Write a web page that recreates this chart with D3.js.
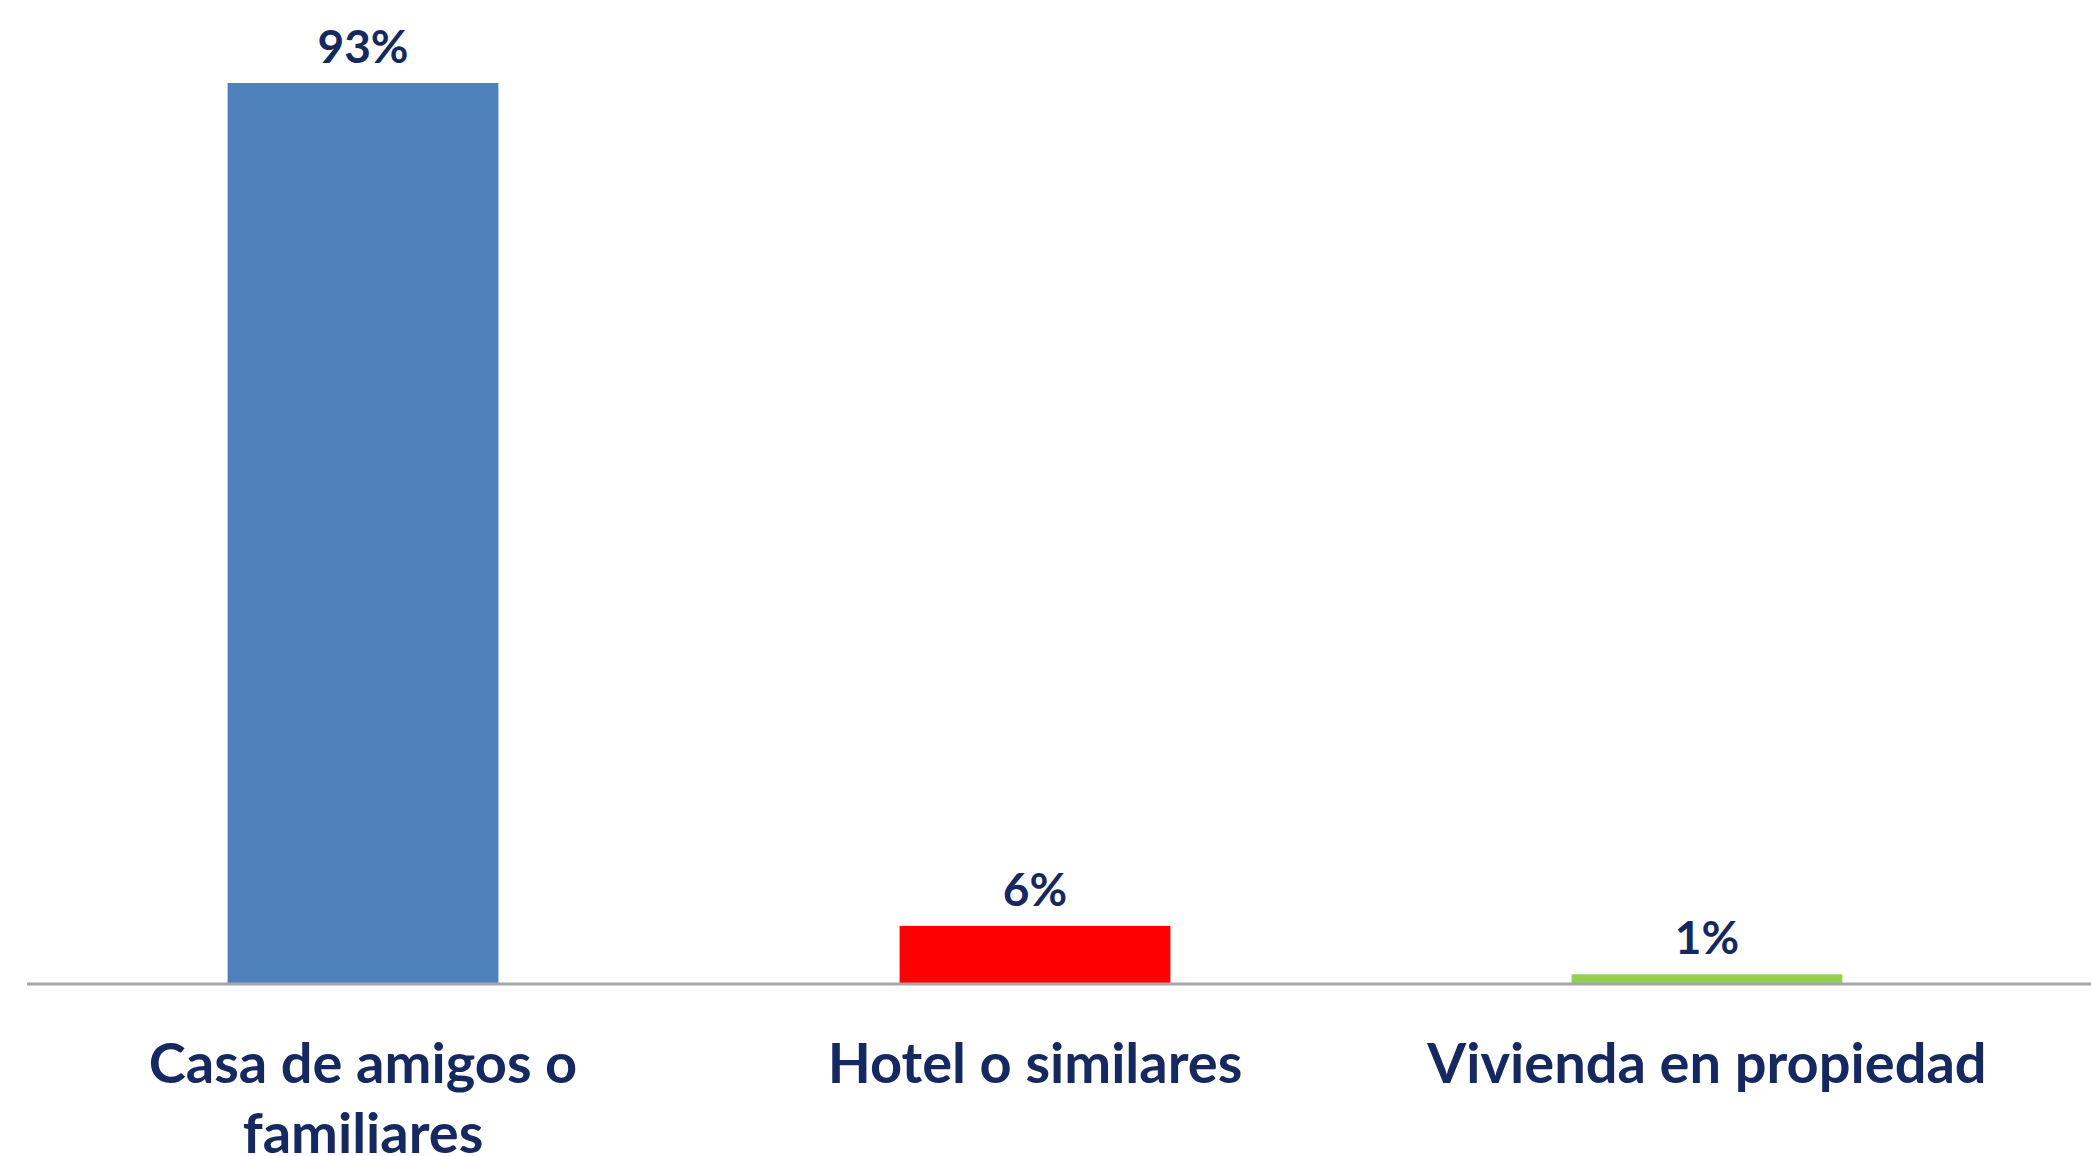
<!DOCTYPE html>
<html>
<head>
<meta charset="utf-8">
<script src="https://cdn.jsdelivr.net/npm/d3@7"></script>
<style>
  body { margin: 0; background: #fff; }
  svg { display: block; }
</style>
</head>
<body>
<svg id="chart" width="2091" height="1156"></svg>
<script>
// data
var categories = ["Casa de amigos o familiares", "Hotel o similares", "Vivienda en propiedad"];
var values = [93, 6, 1];
var valueLabels = ["93%", "6%", "1%"];
var barColors = ["#4F81BD", "#FF0000", "#92D050"];

var width = 2091, height = 1156;
var margin = { top: 83, left: 27, right: 48, bottom: 172 };
var baseline = height - margin.bottom;

var svg = d3.select("#chart");

// band scale: bars are ~40% of the step, outer padding half of inner
var x = d3.scaleBand()
  .domain(categories)
  .range([margin.left, width - margin.right])
  .paddingInner(0.597)
  .paddingOuter(0.2985);

var y = d3.scaleLinear()
  .domain([0, d3.max(values)])
  .range([baseline, margin.top]);

var data = categories.map(function (c, i) {
  return { cat: c, value: values[i], label: valueLabels[i], color: barColors[i] };
});

// bars
svg.selectAll(".bar")
  .data(data)
  .enter()
  .append("rect")
  .attr("class", "bar")
  .attr("x", function (d) { return x(d.cat); })
  .attr("width", x.bandwidth())
  .attr("y", function (d) { return y(d.value); })
  .attr("height", function (d) { return baseline - y(d.value); })
  .attr("fill", function (d) { return d.color; });

// value labels above bars
svg.selectAll(".val")
  .data(data)
  .enter()
  .append("text")
  .attr("class", "val")
  .attr("x", function (d) { return x(d.cat) + x.bandwidth() / 2; })
  .attr("y", function (d) { return y(d.value) - 20; })
  .attr("text-anchor", "middle")
  .attr("font-family", "Lato, 'Open Sans', sans-serif")
  .attr("font-weight", "bold")
  .attr("font-size", 46)
  .attr("fill", "#15285F")
  .text(function (d) { return d.label; });

// axis line (no ticks), runs off the right edge like the original
var axis = svg.append("g")
  .attr("transform", "translate(0," + baseline + ")")
  .call(d3.axisBottom(x).tickSize(0).tickFormat(""));
axis.select(".domain").remove();
axis.append("line")
  .attr("x1", margin.left)
  .attr("x2", width)
  .attr("stroke", "#A6A6A6")
  .attr("stroke-width", 3);

// category labels, wrapped to the band step
var cat = svg.selectAll(".cat")
  .data(categories)
  .enter()
  .append("text")
  .attr("class", "cat")
  .attr("x", function (d) { return x(d) + x.bandwidth() / 2; })
  .attr("y", baseline + 99)
  .attr("text-anchor", "middle")
  .attr("font-family", "Lato, 'Open Sans', sans-serif")
  .attr("font-weight", "bold")
  .attr("font-size", 56)
  .attr("fill", "#15285F")
  .text(function (d) { return d; });

cat.each(function (d) {
  wrap(d3.select(this), x.step() * 0.9, 70);
});

function wrap(text, maxW, lineH) {
  var words = text.text().split(" ");
  var tx = text.attr("x");
  text.text(null);
  var line = [];
  var tspan = text.append("tspan").attr("x", tx);
  words.forEach(function (w) {
    line.push(w);
    tspan.text(line.join(" "));
    if (tspan.node().getComputedTextLength() > maxW && line.length > 1) {
      line.pop();
      tspan.text(line.join(" "));
      line = [w];
      tspan = text.append("tspan").attr("x", tx).attr("dy", lineH).text(w);
    }
  });
}
</script>
</body>
</html>
